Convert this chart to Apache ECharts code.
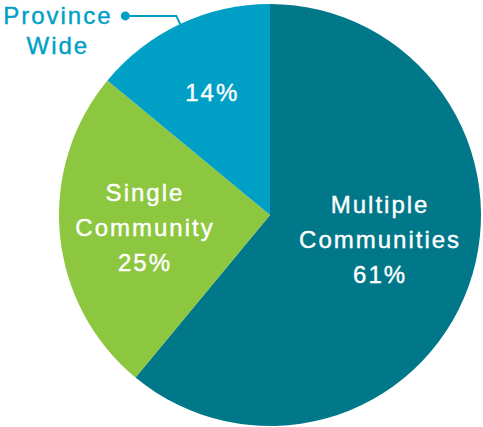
<!DOCTYPE html>
<html>
<head>
<meta charset="utf-8">
<script src="https://cdn.jsdelivr.net/npm/echarts@6/dist/echarts.min.js"></script>
<style>
  html, body { margin: 0; padding: 0; background: #ffffff; }
  #chart { width: 483px; height: 427px; letter-spacing: 2px; }
</style>
</head>
<body>
<div id="chart"></div>
<script>
// Share of projects by reach
const categories = ['Multiple Communities', 'Single Community', 'Province Wide'];
const shares = [61, 25, 14];

// Styling
const sliceColors = ['#00788A', '#8DC63F', '#00A0C6'];
const FONT = '"Liberation Sans", Arial, Helvetica, sans-serif';
const TEXT_WEIGHT = 0.4; // thin outline to give the labels a medium weight
// Small nudges for the inside labels (px)
const labelNudge = [[8, -12], [-17, 2], [-11.6, -24.8]];
const OUTSIDE_INDEX = 2; // slice whose name sits outside with a leader line

const chart = echarts.init(document.getElementById('chart'), null, { renderer: 'svg' });

const pieBase = {
  type: 'pie',
  center: [270, 215],
  radius: 211,
  startAngle: 90,
  clockwise: true,
  avoidLabelOverlap: false,
  silent: true,
  animation: false
};

const outsideColor = sliceColors[OUTSIDE_INDEX];

chart.setOption({
  backgroundColor: '#ffffff',
  series: [
    Object.assign({}, pieBase, {
      data: categories.map((name, i) => ({
        name: name,
        value: shares[i],
        itemStyle: { color: sliceColors[i] }
      })),
      label: {
        show: true,
        position: 'inside',
        color: '#ffffff',
        textBorderColor: '#ffffff',
        textBorderWidth: TEXT_WEIGHT,
        fontFamily: FONT,
        fontSize: 24,
        lineHeight: 35,
        formatter: p => p.dataIndex === OUTSIDE_INDEX
          ? p.value + '%'
          : p.name.split(' ').join('\n') + '\n' + p.value + '%'
      },
      labelLine: { show: false },
      labelLayout: p => ({ dx: labelNudge[p.dataIndex][0], dy: labelNudge[p.dataIndex][1] })
    }),
    Object.assign({}, pieBase, {
      z: 3,
      data: categories.map((name, i) => ({
        name: name,
        value: shares[i],
        itemStyle: { color: 'rgba(0,0,0,0)' },
        label: { show: i === OUTSIDE_INDEX },
        labelLine: { show: i === OUTSIDE_INDEX }
      })),
      label: {
        position: 'outside',
        distanceToLabelLine: -4.5,
        padding: [30, 0, 0, 0],
        color: outsideColor,
        fontFamily: FONT,
        fontSize: 24,
        lineHeight: 30,
        formatter: p => {
          const words = p.name.split(' ');
          return '{t|' + words[0] + '}{s|}{d|}\n{t|' + words.slice(1).join(' ') + '}{e|}';
        },
        rich: {
          t: {
            width: 108, align: 'center', fontFamily: FONT, fontSize: 24, lineHeight: 30,
            color: outsideColor, textBorderColor: outsideColor, textBorderWidth: TEXT_WEIGHT
          },
          s: { width: 9, lineHeight: 30 },
          d: { width: 9, height: 9, lineHeight: 30, borderRadius: 4.5, backgroundColor: outsideColor },
          e: { width: 18, lineHeight: 30 }
        }
      },
      labelLine: {
        length: 9,
        length2: 51,
        smooth: false,
        lineStyle: { color: outsideColor, width: 2 }
      }
    })
  ]
});
</script>
</body>
</html>
